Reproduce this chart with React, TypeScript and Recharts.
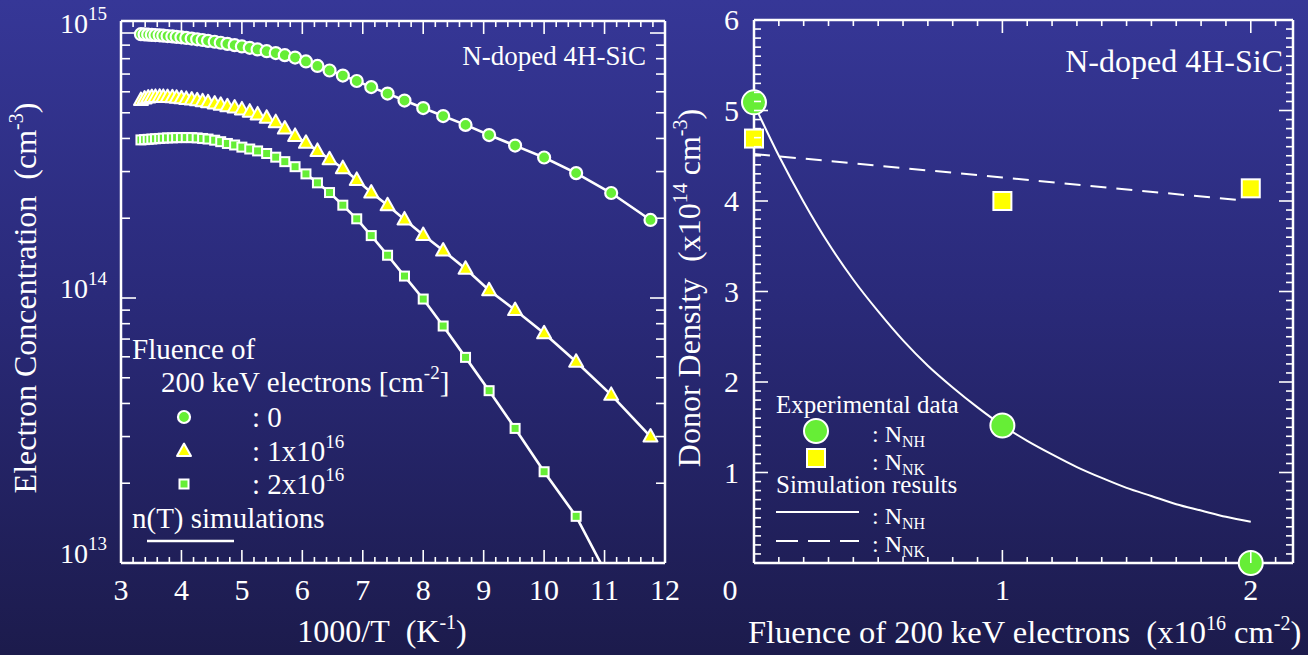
import React from 'react';
import { ComposedChart, Line, XAxis, YAxis } from 'recharts';

const FONT = "'Liberation Serif', 'Times New Roman', Times, serif";
const GREEN = '#66ee36';
const YELLOW = '#ffff00';
const WHITE = '#ffffff';
const SP2 = '\u00a0\u00a0';

// ---- left panel: n(T) for three fluences ----
// 1000/T of each point (T = 300 K down to 85 K)
const invT = [
  3.33, 3.39, 3.45, 3.51, 3.57, 3.64, 3.7, 3.77, 3.85, 3.92, 4.0, 4.08, 4.17, 4.26, 4.35,
  4.44, 4.55, 4.65, 4.76, 4.88, 5.0, 5.13, 5.26, 5.41, 5.56, 5.71, 5.88, 6.06, 6.25, 6.45,
  6.67, 6.9, 7.14, 7.41, 7.69, 8.0, 8.33, 8.7, 9.09, 9.52, 10.0, 10.53, 11.11, 11.76,
];
// electron concentration in units of 1e14 cm^-3
const nFluence0 = [
  9.9, 9.88, 9.86, 9.84, 9.82, 9.8, 9.77, 9.74, 9.71, 9.67, 9.63, 9.58, 9.53, 9.47, 9.41,
  9.34, 9.27, 9.19, 9.1, 9.0, 8.9, 8.79, 8.67, 8.54, 8.4, 8.25, 8.08, 7.81, 7.51, 7.22,
  6.91, 6.59, 6.25, 5.91, 5.56, 5.21, 4.86, 4.5, 4.12, 3.76, 3.39, 2.96, 2.49, 1.97,
];
const nFluence1 = [
  5.59, 5.66, 5.71, 5.73, 5.74, 5.75, 5.74, 5.73, 5.72, 5.7, 5.67, 5.64, 5.61, 5.57, 5.53,
  5.48, 5.42, 5.36, 5.29, 5.23, 5.15, 5.05, 4.93, 4.79, 4.61, 4.36, 4.09, 3.85, 3.59, 3.34,
  3.09, 2.79, 2.5, 2.24, 1.98, 1.73, 1.51, 1.29, 1.07, 0.901, 0.736, 0.575, 0.431, 0.3,
];
const nFluence2 = [
  3.95, 3.96, 3.97, 3.98, 3.99, 4.0, 4.01, 4.02, 4.02, 4.03, 4.03, 4.03, 4.03, 4.02, 4.0,
  3.98, 3.94, 3.89, 3.83, 3.78, 3.71, 3.65, 3.59, 3.51, 3.4, 3.27, 3.13, 2.94, 2.72, 2.5,
  2.24, 1.99, 1.72, 1.45, 1.21, 0.991, 0.784, 0.597, 0.447, 0.322, 0.221, 0.15, 0.084, 0.042,
];
const N_UNIT = 1e14;
const leftXLabels = [3, 4, 5, 6, 7, 8, 9, 10, 11, 12];
const decades = [1e13, 1e14, 1e15];

// ---- right panel: donor density vs fluence (x1e14 cm^-3, fluence x1e16 cm^-2) ----
const fluence = [0, 1, 2];
const nhExp = [5.09, 1.52, 0.0];
const nkExp = [4.69, 4.0, 4.14];
const simFluence = [0, 0.1, 0.2, 0.3, 0.4, 0.5, 0.6, 0.7, 0.8, 0.9, 1.0, 1.1, 1.2, 1.3, 1.4, 1.5, 1.6, 1.7, 1.8, 1.9, 2.0];
const nhSim = [5.07, 4.5, 3.99, 3.53, 3.13, 2.78, 2.46, 2.18, 1.94, 1.72, 1.52, 1.35, 1.2, 1.06, 0.94, 0.83, 0.74, 0.65, 0.58, 0.51, 0.456];
const nkSimFluence = [0, 1, 1.95];
const nkSim = [4.52, 4.26, 4.01];
const rightXLabels = [0, 1, 2];
const rightYLabels = [1, 2, 3, 4, 5, 6];

const toPts = (xs: number[], ys: number[], k = 1) => xs.map((x, i) => ({ x, y: ys[i] * k }));

const leftSeries = [
  { name: '0', data: toPts(invT, nFluence0, N_UNIT), marker: 'circle' },
  { name: '1e16', data: toPts(invT, nFluence1, N_UNIT), marker: 'triangle' },
  { name: '2e16', data: toPts(invT, nFluence2, N_UNIT), marker: 'square' },
];

const leftXTicks = Array.from({ length: 46 }, (_, i) => Math.round((3 + i * 0.2) * 10) / 10);
const leftYTicks = [1e13, 1e14]
  .flatMap((d) => [1, 2, 3, 4, 5, 6, 7, 8, 9].map((m) => m * d))
  .concat([1e15]);
const rightXTicks = Array.from({ length: 22 }, (_, i) => i / 10);
const rightYTicks = Array.from({ length: 61 }, (_, i) => i / 10);

const isInt = (v: number) => Math.abs(v - Math.round(v)) < 1e-6;
const isDecade = (v: number) => decades.includes(v);

// plot boxes (chart-local pixels)
const L = { left: 121, top: 21, right: 665, bottom: 563 };
const R = { left: 54, top: 20, right: 593, bottom: 563 };

type Side = 'top' | 'bottom' | 'left' | 'right';
interface TickOpts {
  side: Side;
  edge: number;
  minor: number;
  major: number;
  isMajor: (v: number) => boolean;
  label?: (v: number, c: number) => React.ReactNode;
}

// inward ticks, long at majors, with optional label
const makeTick = (o: TickOpts) => (props: any) => {
  const v = props.payload.value;
  const horiz = o.side === 'top' || o.side === 'bottom';
  const c = horiz ? props.x : props.y;
  const len = o.isMajor(v) ? o.major : o.minor;
  const dir = o.side === 'bottom' || o.side === 'right' ? -1 : 1;
  return (
    <g>
      {horiz ? (
        <line x1={c} x2={c} y1={o.edge} y2={o.edge + dir * len} stroke={WHITE} strokeWidth={1.6} />
      ) : (
        <line x1={o.edge} x2={o.edge + dir * len} y1={c} y2={c} stroke={WHITE} strokeWidth={1.6} />
      )}
      {o.label ? o.label(v, c) : null}
    </g>
  );
};

const txt = { fill: WHITE, fontFamily: FONT } as const;

const Circle = ({ cx, cy, r, sw = 2 }: any) => (
  <circle cx={cx} cy={cy} r={r} fill={GREEN} stroke={WHITE} strokeWidth={sw} />
);
const Triangle = ({ cx, cy }: any) => (
  <polygon
    points={`${cx},${cy - 7.5} ${cx - 7},${cy + 5} ${cx + 7},${cy + 5}`}
    fill={YELLOW}
    stroke={WHITE}
    strokeWidth={2}
    strokeLinejoin="round"
  />
);
const Square = ({ cx, cy, s, fill = GREEN }: any) => (
  <rect x={cx - s / 2} y={cy - s / 2} width={s} height={s} fill={fill} stroke={WHITE} strokeWidth={2} />
);

const leftDot = (marker: string) => (p: any) => {
  if (p.cx == null || p.cy == null) return <g key={p.index} />;
  if (marker === 'circle') return <Circle key={p.index} cx={p.cx} cy={p.cy} r={6} sw={2.2} />;
  if (marker === 'triangle') return <Triangle key={p.index} cx={p.cx} cy={p.cy} />;
  return <Square key={p.index} cx={p.cx} cy={p.cy} s={9} />;
};

const axisLine = { stroke: WHITE, strokeWidth: 2.5 };

const LeftChart = () => (
  <ComposedChart width={700} height={655} margin={{ top: 11, right: 25, bottom: 52, left: 61 }}>
    <XAxis
      type="number"
      dataKey="x"
      domain={[3, 12]}
      ticks={leftXTicks}
      interval={0}
      allowDataOverflow
      height={40}
      axisLine={axisLine}
      tickLine={false}
      tick={makeTick({
        side: 'bottom', edge: L.bottom, minor: 6, major: 13, isMajor: isInt,
        label: (v, c) =>
          leftXLabels.includes(v) ? (
            <text x={c} y={600} textAnchor="middle" fontSize={30} {...txt}>{v}</text>
          ) : null,
      })}
    />
    <XAxis
      xAxisId="top"
      orientation="top"
      type="number"
      dataKey="x"
      domain={[3, 12]}
      ticks={leftXTicks}
      interval={0}
      allowDataOverflow
      height={10}
      axisLine={axisLine}
      tickLine={false}
      tick={makeTick({ side: 'top', edge: L.top, minor: 6, major: 13, isMajor: isInt })}
    />
    <YAxis
      type="number"
      scale="log"
      domain={[1e13, 1.11e15]}
      ticks={leftYTicks}
      interval={0}
      allowDataOverflow
      width={60}
      axisLine={axisLine}
      tickLine={false}
      tick={makeTick({
        side: 'left', edge: L.left, minor: 9, major: 15, isMajor: isDecade,
        label: (v, c) =>
          isDecade(v) ? (
            <text x={107} y={c} textAnchor="end" fontSize={28} {...txt}>
              <tspan>10</tspan>
              <tspan dy={-13} fontSize={19}>{Math.round(Math.log10(v))}</tspan>
            </text>
          ) : null,
      })}
    />
    <YAxis
      yAxisId="right"
      orientation="right"
      type="number"
      scale="log"
      domain={[1e13, 1.11e15]}
      ticks={leftYTicks}
      interval={0}
      allowDataOverflow
      width={10}
      axisLine={axisLine}
      tickLine={false}
      tick={makeTick({ side: 'right', edge: L.right, minor: 9, major: 15, isMajor: isDecade })}
    />
    {leftSeries.map((s) => (
      <Line
        key={'m' + s.name}
        data={s.data}
        dataKey="y"
        stroke="none"
        dot={leftDot(s.marker)}
        activeDot={false}
        isAnimationActive={false}
      />
    ))}
    {leftSeries.map((s) => (
      <Line
        key={'s' + s.name}
        data={s.data}
        dataKey="y"
        type="linear"
        stroke={WHITE}
        strokeWidth={2.6}
        dot={false}
        activeDot={false}
        isAnimationActive={false}
      />
    ))}
  </ComposedChart>
);

const RightChart = () => (
  <ComposedChart width={608} height={655} margin={{ top: 10, right: 5, bottom: 52, left: 14 }}>
    <XAxis
      type="number"
      dataKey="x"
      domain={[0, 2.17]}
      ticks={rightXTicks}
      interval={0}
      height={40}
      axisLine={axisLine}
      tickLine={false}
      tick={makeTick({
        side: 'bottom', edge: R.bottom, minor: 6, major: 13, isMajor: isInt,
        label: (v, c) =>
          rightXLabels.includes(v) ? (
            <text x={v === 0 ? c - 24 : c} y={600} textAnchor="middle" fontSize={30} {...txt}>{v}</text>
          ) : null,
      })}
    />
    <XAxis
      xAxisId="top"
      orientation="top"
      type="number"
      dataKey="x"
      domain={[0, 2.17]}
      ticks={rightXTicks}
      interval={0}
      allowDataOverflow
      height={10}
      axisLine={axisLine}
      tickLine={false}
      tick={makeTick({ side: 'top', edge: R.top, minor: 6, major: 13, isMajor: isInt })}
    />
    <YAxis
      type="number"
      domain={[0, 6]}
      ticks={rightYTicks}
      interval={0}
      width={40}
      axisLine={axisLine}
      tickLine={false}
      tick={makeTick({
        side: 'left', edge: R.left, minor: 7, major: 14, isMajor: isInt,
        label: (v, c) =>
          rightYLabels.includes(v) ? (
            <text x={39} y={c + 10} textAnchor="end" fontSize={30} {...txt}>{v}</text>
          ) : null,
      })}
    />
    <YAxis
      yAxisId="right"
      orientation="right"
      type="number"
      domain={[0, 6]}
      ticks={rightYTicks}
      interval={0}
      allowDataOverflow
      width={10}
      axisLine={axisLine}
      tickLine={false}
      tick={makeTick({ side: 'right', edge: R.right, minor: 7, major: 14, isMajor: isInt })}
    />
    <Line
      data={toPts(fluence, nhExp)}
      dataKey="y"
      stroke="none"
      dot={(p: any) => <Circle key={p.index} cx={p.cx} cy={p.cy} r={12} />}
      activeDot={false}
      isAnimationActive={false}
    />
    <Line
      data={toPts(fluence, nkExp)}
      dataKey="y"
      stroke="none"
      dot={(p: any) => <Square key={p.index} cx={p.cx} cy={p.cy} s={18} fill={YELLOW} />}
      activeDot={false}
      isAnimationActive={false}
    />
    <Line
      data={toPts(simFluence, nhSim)}
      dataKey="y"
      type="monotone"
      stroke={WHITE}
      strokeWidth={2}
      dot={false}
      activeDot={false}
      isAnimationActive={false}
    />
    <Line
      data={toPts(nkSimFluence, nkSim)}
      dataKey="y"
      type="linear"
      stroke={WHITE}
      strokeWidth={2}
      strokeDasharray="16 10"
      dot={false}
      activeDot={false}
      isAnimationActive={false}
    />
  </ComposedChart>
);

const Overlay = () => (
  <svg
    width={1308}
    height={655}
    style={{ position: 'absolute', left: 0, top: 0, pointerEvents: 'none' }}
  >
    <g {...txt}>
      {/* panel titles */}
      <text x={646} y={65} textAnchor="end" fontSize={27}>N-doped 4H-SiC</text>
      <text x={1283} y={72} textAnchor="end" fontSize={32}>N-doped 4H-SiC</text>

      {/* axis titles */}
      <text transform="translate(36,298) rotate(-90)" textAnchor="middle" fontSize={32}>
        <tspan>{'Electron Concentration' + SP2 + '(cm'}</tspan>
        <tspan dy={-13} fontSize={20}>-3</tspan>
        <tspan dy={13}>)</tspan>
      </text>
      <text x={382} y={642} textAnchor="middle" fontSize={32}>
        <tspan>{'1000/T' + SP2 + '(K'}</tspan>
        <tspan dy={-13} fontSize={20}>-1</tspan>
        <tspan dy={13}>)</tspan>
      </text>
      <text transform="translate(700,288) rotate(-90)" textAnchor="middle" fontSize={32}>
        <tspan>{'Donor Density' + SP2 + '(x10'}</tspan>
        <tspan dy={-13} fontSize={20}>14</tspan>
        <tspan dy={13}>{'\u00a0cm'}</tspan>
        <tspan dy={-13} fontSize={20}>-3</tspan>
        <tspan dy={13}>)</tspan>
      </text>
      <text x={748} y={643} fontSize={32.5}>
        <tspan>{'Fluence of 200 keV electrons' + SP2 + '(x10'}</tspan>
        <tspan dy={-13} fontSize={20}>16</tspan>
        <tspan dy={13}>{'\u00a0cm'}</tspan>
        <tspan dy={-13} fontSize={20}>-2</tspan>
        <tspan dy={13}>)</tspan>
      </text>

      {/* left legend */}
      <text x={132} y={359} fontSize={29}>Fluence of</text>
      <text x={161} y={392} fontSize={29}>
        <tspan>200 keV electrons [cm</tspan>
        <tspan dy={-13} fontSize={19}>-2</tspan>
        <tspan dy={13}>]</tspan>
      </text>
      <text x={252} y={427} fontSize={29}>: 0</text>
      <text x={252} y={461} fontSize={29}>
        <tspan>: 1x10</tspan>
        <tspan dy={-13} fontSize={19}>16</tspan>
      </text>
      <text x={252} y={494} fontSize={29}>
        <tspan>: 2x10</tspan>
        <tspan dy={-13} fontSize={19}>16</tspan>
      </text>
      <text x={132} y={528} fontSize={29}>n(T) simulations</text>

      {/* right legend */}
      <text x={776} y={413} fontSize={25}>Experimental data</text>
      <text x={872} y={442} fontSize={24}>
        <tspan>: N</tspan>
        <tspan dy={5} fontSize={16}>NH</tspan>
      </text>
      <text x={872} y={470} fontSize={24}>
        <tspan>: N</tspan>
        <tspan dy={5} fontSize={16}>NK</tspan>
      </text>
      <text x={776} y={493} fontSize={25}>Simulation results</text>
      <text x={872} y={524} fontSize={24}>
        <tspan>: N</tspan>
        <tspan dy={5} fontSize={16}>NH</tspan>
      </text>
      <text x={872} y={552} fontSize={24}>
        <tspan>: N</tspan>
        <tspan dy={5} fontSize={16}>NK</tspan>
      </text>
    </g>
    {/* legend keys */}
    <Circle cx={184} cy={417} r={6} sw={2.2} />
    <Triangle cx={184} cy={451} />
    <Square cx={184} cy={484} s={9} />
    <line x1={147} x2={234} y1={541} y2={541} stroke={WHITE} strokeWidth={2.5} />
    <Circle cx={816} cy={431} r={12} />
    <Square cx={816} cy={458} s={18} fill={YELLOW} />
    <line x1={776} x2={859} y1={512} y2={512} stroke={WHITE} strokeWidth={2} />
    <line x1={776} x2={859} y1={541} y2={541} stroke={WHITE} strokeWidth={2} strokeDasharray="22 10" />
  </svg>
);

export default function App() {
  return (
    <div
      style={{
        position: 'fixed',
        left: 0,
        top: 0,
        width: 1308,
        height: 655,
        overflow: 'hidden',
        background: 'linear-gradient(180deg, #363797 0%, #2a2a7a 45%, #1c1b4c 100%)',
      }}
    >
      <div style={{ position: 'absolute', left: 0, top: 0 }}>
        <LeftChart />
      </div>
      <div style={{ position: 'absolute', left: 700, top: 0 }}>
        <RightChart />
      </div>
      <Overlay />
    </div>
  );
}
